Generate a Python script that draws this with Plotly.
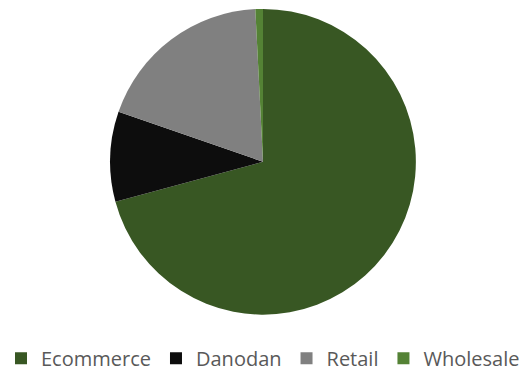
import plotly.graph_objects as go

labels = ["Ecommerce", "Danodan", "Retail", "Wholesale"]
values = [70.8, 9.5, 18.9, 0.8]
colors = ["#385723", "#0D0D0D", "#808080", "#548235"]

W, H = 526, 378
fig = go.Figure(go.Pie(
    labels=labels, values=values, sort=False, direction="clockwise", rotation=0,
    marker=dict(colors=colors, line=dict(width=0)),
    textinfo="none", hoverinfo="label+percent",
    domain=dict(x=[108 / W, 418 / W], y=[1 - 318 / H, 1 - 9 / H]),
))
fig.update_layout(
    width=W, height=H, margin=dict(l=0, r=0, t=0, b=0),
    paper_bgcolor="white", plot_bgcolor="white",
    showlegend=True,
    legend=dict(orientation="h", x=0.5, xanchor="center", y=1 - 362 / H, yanchor="middle",
                font=dict(family="Open Sans, Liberation Sans, sans-serif", size=20, color="#595959"),
                itemsizing="constant", itemwidth=30, traceorder="normal"),
)
fig.write_html("out.html")
